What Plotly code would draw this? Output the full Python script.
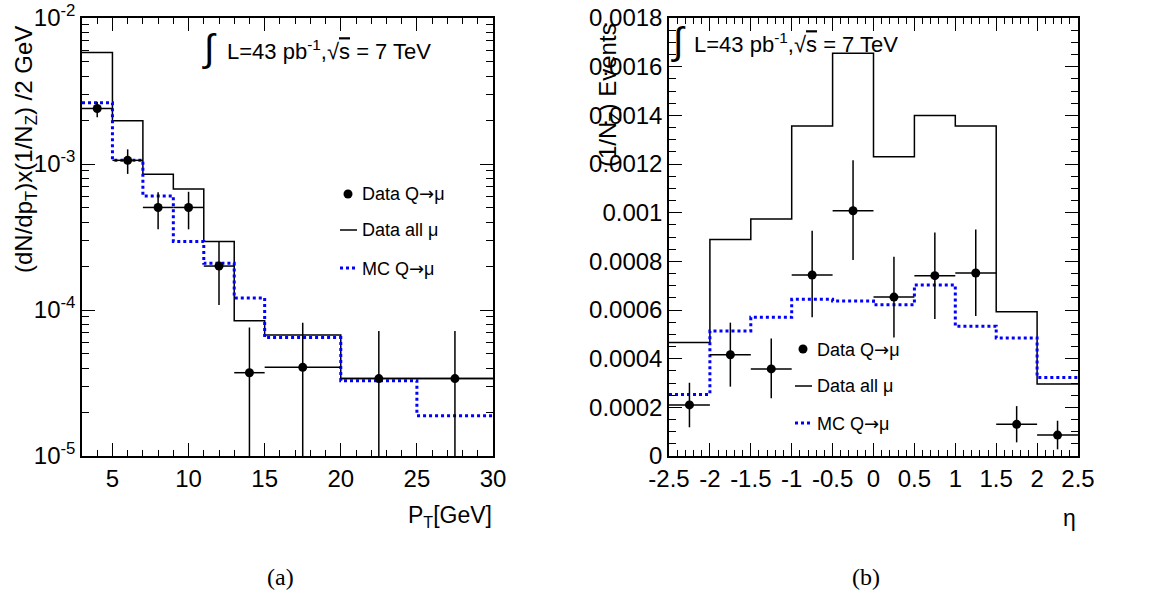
import plotly.graph_objects as go

W, H = 1163, 597

# ---------------- data: panel (a) pT ----------------
pt_edges = [3, 5, 7, 9, 11, 13, 15, 20, 25, 30]
pt_all_mu = [5.8e-3, 1.98e-3, 8.5e-4, 6.75e-4, 2.95e-4, 8.45e-5, 6.75e-5, 3.39e-5, 3.39e-5]
pt_mc = [2.63e-3, 1.06e-3, 6.04e-4, 2.95e-4, 2.09e-4, 1.21e-4, 6.47e-5, 3.28e-5, 1.89e-5]
pt_x = [4, 6, 8, 10, 12, 14, 17.5, 22.5, 27.5]
pt_xerr = [1, 1, 1, 1, 1, 1, 2.5, 2.5, 2.5]
pt_y = [2.4e-3, 1.06e-3, 5.04e-4, 5.04e-4, 2.0e-4, 3.72e-5, 4.05e-5, 3.39e-5, 3.39e-5]
pt_y_hi = [2.67e-3, 1.26e-3, 6.4e-4, 6.45e-4, 2.93e-4, 7.6e-5, 8.18e-5, 7.18e-5, 7.18e-5]
pt_y_lo = [2.09e-3, 8.55e-4, 3.57e-4, 3.57e-4, 1.08e-4, 1e-6, 1e-6, 1e-6, 1e-6]

# ---------------- data: panel (b) eta ----------------
eta_edges = [-2.5, -2.0, -1.5, -1.0, -0.5, 0.0, 0.5, 1.0, 1.5, 2.0, 2.5]
eta_all_mu = [4.66e-4, 8.9e-4, 9.74e-4, 1.356e-3, 1.655e-3, 1.23e-3, 1.399e-3, 1.356e-3, 5.93e-4, 2.96e-4]
eta_mc = [2.53e-4, 5.14e-4, 5.7e-4, 6.44e-4, 6.37e-4, 6.22e-4, 7.03e-4, 5.33e-4, 4.85e-4, 3.23e-4]
eta_x = [-2.25, -1.75, -1.25, -0.75, -0.25, 0.25, 0.75, 1.25, 1.75, 2.25]
eta_xerr = [0.25] * 10
eta_y = [2.1e-4, 4.16e-4, 3.58e-4, 7.44e-4, 1.008e-3, 6.53e-4, 7.41e-4, 7.52e-4, 1.3e-4, 8.6e-5]
eta_y_hi = [3.01e-4, 5.48e-4, 4.83e-4, 9.26e-4, 1.215e-3, 8.19e-4, 9.18e-4, 9.31e-4, 2.05e-4, 1.45e-4]
eta_y_lo = [1.18e-4, 2.85e-4, 2.37e-4, 5.7e-4, 8.05e-4, 4.87e-4, 5.63e-4, 5.75e-4, 5.6e-5, 2.75e-5]

# tick labels
pt_tickvals = [5, 10, 15, 20, 25, 30]
pt_ytickvals = [1e-5, 1e-4, 1e-3, 1e-2]
pt_yticktext = ["10<sup>-5</sup>", "10<sup>-4</sup>", "10<sup>-3</sup>", "10<sup>-2</sup>"]
eta_tickvals = [-2.5, -2, -1.5, -1, -0.5, 0, 0.5, 1, 1.5, 2, 2.5]
eta_ticktext = ["-2.5", "-2", "-1.5", "-1", "-0.5", "0", "0.5", "1", "1.5", "2", "2.5"]
eta_ytickvals = [0, 0.0002, 0.0004, 0.0006, 0.0008, 0.001, 0.0012, 0.0014, 0.0016, 0.0018]
eta_yticktext = ["0", "0.0002", "0.0004", "0.0006", "0.0008", "0.001", "0.0012", "0.0014", "0.0016", "0.0018"]

FONT = "Liberation Sans, Arial, Helvetica, sans-serif"
BLUE = "#0000ff"


def px(x):
    return x / W


def py(y):
    return 1 - y / H


fig = go.Figure()


def add_panel(xa, ya, edges, all_mu, mc, x, xerr, y, yhi, ylo):
    fig.add_trace(go.Scatter(x=edges, y=list(all_mu) + [all_mu[-1]], mode="lines",
                             line=dict(color="black", width=1.5, shape="hv"),
                             xaxis=xa, yaxis=ya, showlegend=False, hoverinfo="skip"))
    fig.add_trace(go.Scatter(x=edges, y=list(mc) + [mc[-1]], mode="lines",
                             line=dict(color=BLUE, width=3, shape="hv", dash="dot"),
                             xaxis=xa, yaxis=ya, showlegend=False, hoverinfo="skip"))
    fig.add_trace(go.Scatter(
        x=x, y=y, mode="markers",
        marker=dict(color="black", size=9, symbol="circle"),
        error_x=dict(type="data", array=xerr, width=0, thickness=1.5, color="black"),
        error_y=dict(type="data", symmetric=False,
                     array=[h - v for h, v in zip(yhi, y)],
                     arrayminus=[v - l for v, l in zip(y, ylo)],
                     width=0, thickness=1.5, color="black"),
        xaxis=xa, yaxis=ya, showlegend=False, cliponaxis=True))


add_panel("x", "y", pt_edges, pt_all_mu, pt_mc, pt_x, pt_xerr, pt_y, pt_y_hi, pt_y_lo)
add_panel("x2", "y2", eta_edges, eta_all_mu, eta_mc, eta_x, eta_xerr, eta_y, eta_y_hi, eta_y_lo)

axis_common = dict(showline=True, linecolor="black", linewidth=1.5, mirror="allticks",
                   ticks="inside", ticklen=13, tickwidth=1, tickcolor="black",
                   showgrid=False, zeroline=False, automargin=False,
                   tickfont=dict(family=FONT, size=24, color="black"))

ydom = [py(456), py(18)]
minor_x = dict(ticks="inside", ticklen=6, tickwidth=1, tickcolor="black", showgrid=False)

pt_minor_y = [m * 10 ** e for e in (-5, -4, -3) for m in range(2, 10)]

fig.update_layout(
    width=W, height=H, margin=dict(l=0, r=0, t=0, b=0, autoexpand=False),
    paper_bgcolor="white", plot_bgcolor="white",
    font=dict(family=FONT, color="black"),
    xaxis=dict(domain=[px(82), px(493)], range=[3, 30], tickmode="array", tickvals=pt_tickvals,
               minor=dict(minor_x, dtick=1, tick0=0), anchor="y", **axis_common),
    yaxis=dict(domain=ydom, type="log", range=[-5, -2], tickmode="array",
               tickvals=pt_ytickvals, ticktext=pt_yticktext,
               minor=dict(ticks="inside", ticklen=7, tickwidth=1, tickcolor="black",
                          tickmode="array", tickvals=pt_minor_y, showgrid=False),
               anchor="x", **axis_common),
    xaxis2=dict(domain=[px(669), px(1078)], range=[-2.5, 2.5], tickmode="array",
                tickvals=eta_tickvals, ticktext=eta_ticktext,
                minor=dict(minor_x, dtick=0.1, tick0=0), anchor="y2", **axis_common),
    yaxis2=dict(domain=ydom, range=[0, 0.0018], tickmode="array",
                tickvals=eta_ytickvals, ticktext=eta_yticktext,
                minor=dict(ticks="inside", ticklen=7, tickwidth=1, tickcolor="black",
                           dtick=0.00005, tick0=0, showgrid=False),
                anchor="x2", **axis_common),
)

ann = []
shapes = []


def text(x, y, s, size, xanchor="left", yanchor="middle", angle=0, family=FONT):
    ann.append(dict(x=px(x), y=py(y), xref="paper", yref="paper", text=s, showarrow=False,
                    xanchor=xanchor, yanchor=yanchor, textangle=angle,
                    font=dict(family=family, size=size, color="black")))


# axis titles
text(25, 150, "(dN/dp<sub>T</sub>)x(1/N<sub>Z</sub>) /2 GeV", 24, xanchor="center", angle=-90)
text(610, 95, "(1/N<sub>Z</sub>) Events", 24, xanchor="center", angle=-90)
text(494, 516, "P<sub>T</sub>[GeV]", 23, xanchor="right")
text(1078, 518, "η", 23, xanchor="right")

# luminosity labels
lumi = "L=43 pb<sup>-1</sup>,√<span style='text-decoration:overline'>s</span> = 7 TeV"
text(209, 49, "∫", 38, xanchor="center")
text(225, 50, lumi, 22)
text(678, 41, "∫", 38, xanchor="center")
text(692, 43, lumi, 22)

# captions
text(280, 577, "(a)", 24, xanchor="center", family="Liberation Serif, serif")
text(866, 577, "(b)", 24, xanchor="center", family="Liberation Serif, serif")

ARROW = "<span style='font-family:DejaVu Sans'>→</span>"


def legend(mx, lx0, lx1, tx, rows):
    r1, r2, r3 = rows
    shapes.append(dict(type="circle", xref="paper", yref="paper", xsizemode="pixel",
                       ysizemode="pixel", xanchor=px(mx), yanchor=py(r1),
                       x0=-4.5, x1=4.5, y0=-4.5, y1=4.5, fillcolor="black",
                       line=dict(color="black", width=0)))
    shapes.append(dict(type="line", xref="paper", yref="paper", x0=px(lx0), x1=px(lx1),
                       y0=py(r2), y1=py(r2), line=dict(color="black", width=1.5)))
    shapes.append(dict(type="line", xref="paper", yref="paper", x0=px(lx0), x1=px(lx1),
                       y0=py(r3), y1=py(r3), line=dict(color=BLUE, width=3, dash="dot")))
    text(tx, r1, "Data Q" + ARROW + "μ", 18)
    text(tx, r2, "Data all μ", 18)
    text(tx, r3, "MC Q" + ARROW + "μ", 18)


legend(348, 340, 357, 360, (194, 230, 268))
legend(803, 795, 812, 815, (349, 386, 423))

fig.update_layout(annotations=ann, shapes=shapes)
fig.write_html("out.html")
